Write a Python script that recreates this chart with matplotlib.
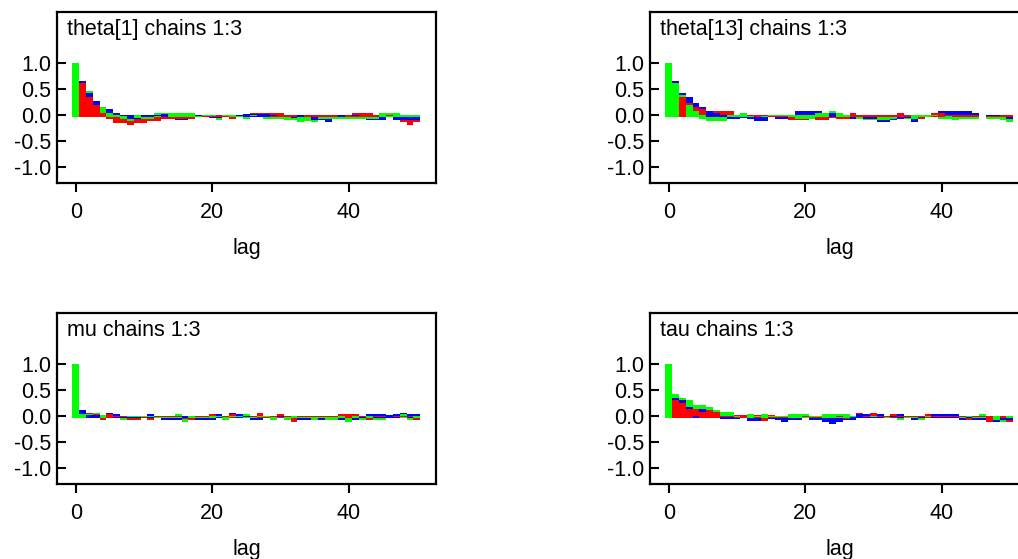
import numpy as np
import matplotlib
matplotlib.use("Agg")
import matplotlib.pyplot as plt

plt.rcParams['font.family'] = ['Liberation Sans', 'DejaVu Sans']
plt.rcParams['axes.unicode_minus'] = False

# autocorrelation per chain, lags 0..50
lags = np.arange(51)
chain_colors = ['#0000ff', '#ff0000', '#00ff00']  # chain 1, 2, 3
y_ticks = [1.0, 0.5, 0.0, -0.5, -1.0]
y_tick_labels = ['1.0', '0.5', '0.0', '-0.5', '-1.0']
x_ticks = [0, 20, 40]

theta1_c1 = [1.0, 0.66, 0.42, 0.27, 0.045, 0.12, 0.04, -0.02, -0.08, -0.08, -0.04, -0.03, -0.02, 0.02, -0.03,
             -0.10, -0.10, -0.03, -0.02, -0.04, -0.06, -0.06, -0.04, -0.04, -0.02, 0.01, 0.02, 0.02, 0.01, -0.02,
             -0.04, -0.04, -0.06, -0.03, -0.04, -0.10, -0.10, -0.14, -0.04, -0.03, -0.03, -0.02, -0.04, -0.10,
             -0.10, -0.10, -0.03, -0.09, -0.10, -0.10, -0.10]
theta1_c2 = [1.0, 0.61, 0.35, 0.19, 0.04, -0.08, -0.15, -0.15, -0.19, -0.15, -0.15, -0.11, -0.11, -0.07, -0.07,
             -0.07, -0.07, -0.07, -0.04, -0.03, -0.03, -0.04, -0.04, -0.07, -0.04, -0.03, 0.03, 0.03, 0.03, 0.03,
             0.03, -0.04, -0.04, -0.04, -0.04, -0.04, -0.04, -0.04, -0.04, -0.04, -0.03, 0.03, 0.03, 0.03, -0.04,
             -0.04, -0.02, -0.04, -0.14, -0.19, -0.14]
theta1_c3 = [1.0, 0.612, 0.46, 0.192, 0.155, 0.04, -0.04, -0.08, -0.12, -0.06, -0.08, -0.07, 0.03, 0.03, 0.03,
             0.03, 0.03, 0.03, -0.03, -0.02, -0.02, -0.10, -0.02, -0.03, -0.04, -0.07, -0.02, -0.03, -0.07, -0.07,
             -0.07, -0.10, -0.10, -0.14, -0.12, -0.14, -0.08, -0.07, -0.07, -0.07, -0.07, -0.07, -0.07, -0.07,
             -0.07, 0.03, 0.03, 0.03, -0.03, -0.03, -0.03]

theta13_c1 = [1.0, 0.66, 0.43, 0.35, 0.23, 0.155, 0.08, 0.04, -0.04, -0.08, -0.08, -0.06, -0.08, -0.12, -0.12,
              -0.04, -0.07, -0.07, -0.04, 0.08, 0.08, 0.08, 0.08, 0.04, 0.04, -0.04, -0.03, -0.07, -0.07, -0.07,
              -0.07, -0.14, -0.14, -0.10, -0.07, -0.06, -0.14, -0.04, -0.03, 0.03, 0.07, 0.07, 0.07, 0.07, 0.07,
              0.04, -0.01, -0.02, -0.02, -0.03, -0.07]
theta13_c2 = [1.0, 0.622, 0.35, 0.23, 0.155, 0.12, 0.085, 0.08, 0.08, 0.08, -0.03, -0.04, -0.02, -0.03, -0.02,
              -0.04, -0.03, -0.03, -0.10, -0.10, -0.10, -0.08, -0.10, -0.10, -0.06, -0.07, -0.07, 0.03, -0.03,
              -0.03, -0.04, -0.04, -0.04, -0.04, 0.03, -0.03, -0.07, -0.07, -0.04, 0.03, 0.03, -0.02, -0.04, -0.04,
              -0.04, -0.03, -0.01, -0.03, -0.03, -0.03, -0.03]
theta13_c3 = [1.0, 0.62, 0.39, 0.19, 0.08, -0.08, -0.12, -0.12, -0.12, -0.04, -0.03, 0.04, -0.04, -0.04, -0.04,
              -0.02, -0.02, -0.02, -0.04, -0.07, -0.07, -0.07, 0.03, 0.04, 0.08, 0.04, -0.03, -0.04, -0.07, -0.10,
              -0.10, -0.10, -0.10, -0.07, -0.04, -0.07, -0.07, -0.04, -0.03, -0.02, -0.07, -0.07, -0.10, -0.07,
              -0.07, -0.07, -0.01, -0.07, -0.07, -0.10, -0.14]

mu_c1 = [1.0, 0.12, 0.02, 0.02, 0.02, 0.06, 0.03, -0.04, -0.03, -0.04, -0.02, 0.03, -0.02, -0.08, -0.08, -0.08,
         -0.04, -0.04, -0.08, -0.08, -0.08, 0.03, -0.02, 0.06, 0.03, -0.02, -0.08, -0.08, -0.02, -0.02, -0.02,
         -0.02, -0.04, -0.08, -0.08, -0.02, -0.08, -0.02, -0.02, -0.08, -0.04, -0.08, -0.04, 0.03, 0.03, 0.03,
         0.01, 0.03, 0.06, 0.03, 0.03]
mu_c2 = [1.0, 0.03, 0.06, 0.03, -0.08, 0.03, -0.02, -0.02, -0.08, -0.08, -0.04, -0.08, -0.02, -0.02, -0.02, -0.02,
         -0.06, -0.08, -0.02, -0.02, 0.03, -0.04, -0.02, 0.03, -0.02, -0.03, -0.02, 0.06, -0.04, -0.02, 0.03,
         -0.02, -0.12, -0.02, -0.02, -0.02, -0.02, -0.02, -0.02, 0.03, 0.03, 0.03, -0.02, -0.08, -0.02, -0.02,
         -0.01, -0.02, -0.02, -0.02, -0.08]
mu_c3 = [1.0, 0.03, 0.03, 0.06, 0.02, -0.04, -0.04, -0.08, -0.02, -0.02, -0.02, -0.02, -0.04, -0.03, -0.04, 0.03,
         -0.12, -0.03, -0.03, -0.03, -0.03, -0.02, -0.08, -0.02, -0.02, 0.03, -0.04, -0.02, -0.02, -0.08, -0.04,
         -0.08, -0.04, -0.03, -0.03, -0.08, -0.04, -0.08, -0.08, -0.03, -0.12, -0.03, -0.08, -0.03, -0.08, -0.08,
         -0.01, -0.04, 0.03, -0.08, -0.03]

tau_c1 = [1.0, 0.34, 0.30, 0.18, -0.03, 0.14, 0.121, 0.071, -0.05, -0.05, -0.05, -0.03, -0.09, -0.09, -0.03,
          -0.05, -0.08, -0.12, -0.08, -0.08, -0.03, -0.08, -0.08, -0.12, -0.16, -0.12, -0.08, -0.08, 0.03, 0.03,
          -0.04, 0.03, -0.02, -0.02, 0.03, -0.02, -0.08, -0.04, -0.04, 0.03, 0.03, 0.03, 0.03, -0.08, -0.04,
          -0.08, -0.08, -0.01, -0.12, -0.08, -0.08]
tau_c2 = [1.0, 0.30, 0.26, 0.14, 0.14, 0.07, 0.12, 0.07, -0.02, -0.02, 0.02, 0.02, -0.03, 0.02, -0.09, 0.02,
          -0.04, -0.04, -0.04, -0.03, -0.02, -0.04, -0.04, -0.04, -0.04, -0.02, -0.05, -0.02, 0.06, -0.02, 0.06,
          -0.02, -0.02, 0.03, -0.02, -0.02, -0.02, -0.02, 0.03, -0.02, -0.02, -0.02, -0.02, -0.02, -0.08, -0.02,
          -0.02, -0.12, -0.08, -0.04, -0.12]
tau_c3 = [1.0, 0.43, 0.34, 0.30, 0.22, 0.22, 0.18, 0.12, 0.07, 0.07, -0.02, -0.04, 0.03, -0.02, 0.03, -0.02,
          -0.02, -0.02, 0.03, 0.03, 0.03, -0.02, -0.02, 0.03, 0.03, 0.03, 0.03, -0.02, -0.04, -0.04, -0.02,
          -0.04, -0.04, -0.04, -0.08, -0.03, -0.04, -0.08, -0.02, -0.04, -0.04, -0.04, -0.04, -0.04, -0.02,
          -0.04, 0.03, -0.01, -0.08, -0.12, -0.03]

panels = [
    ('theta[1] chains 1:3', [theta1_c1, theta1_c2, theta1_c3]),
    ('theta[13] chains 1:3', [theta13_c1, theta13_c2, theta13_c3]),
    ('mu chains 1:3', [mu_c1, mu_c2, mu_c3]),
    ('tau chains 1:3', [tau_c1, tau_c2, tau_c3]),
]

W, H = 1018, 559
# axes boxes in pixels: left, top, width, height
boxes = [(57, 12, 379, 171), (650, 12, 379, 171), (57, 313, 379, 171), (650, 313, 379, 171)]

fig = plt.figure(figsize=(W / 100, H / 100), dpi=100)
FS = 15.5

for (title, chains), (px, py, pw, ph) in zip(panels, boxes):
    ax = fig.add_axes([px / W, 1 - (py + ph) / H, pw / W, ph / H])
    vals = np.array(chains)
    # biggest bar first so every chain stays visible
    order = np.argsort(-np.abs(vals), axis=0, kind='stable')
    for rank in range(3):
        idx = order[rank]
        heights = vals[idx, lags]
        # positive bars start a hair below zero, like the original BUGS plot
        base = np.where(heights > 0, -0.032, 0.0)
        cols = [chain_colors[i] for i in idx]
        ax.bar(lags, heights - base, bottom=base, width=1.0, color=cols,
               edgecolor='none', linewidth=0, antialiased=False)

    ax.set_xlim(-2.75, 52.8)
    ax.set_ylim(-1.315, 1.99)
    ax.set_yticks(y_ticks)
    ax.set_yticklabels(y_tick_labels)
    ax.set_xticks(x_ticks)
    ax.tick_params(axis='y', direction='in', length=6.5, width=1.5, pad=4, labelsize=FS)
    ax.tick_params(axis='x', direction='out', length=6.5, width=1.5, pad=7, labelsize=FS)
    for sp in ax.spines.values():
        sp.set_linewidth(1.6)
    ax.set_xlabel('lag', fontsize=FS, labelpad=11)
    ax.text(10 / pw, 1 - 23 / ph, title, transform=ax.transAxes, fontsize=FS,
            ha='left', va='baseline')

fig.savefig('out.png', dpi=100)
